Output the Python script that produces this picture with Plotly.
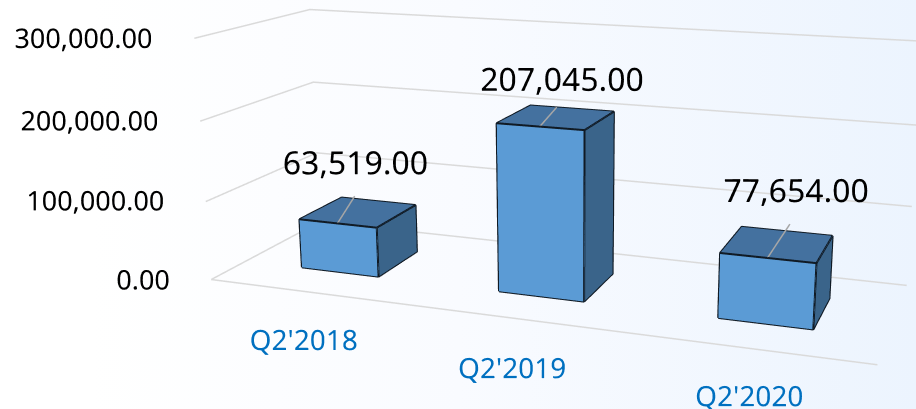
import base64
import plotly.graph_objects as go

categories = ["Q2'2018", "Q2'2019", "Q2'2020"]
values = [63519, 207045, 77654]
value_labels = ["63,519.00", "207,045.00", "77,654.00"]
y_ticks = [0, 100000, 200000, 300000]
y_tick_labels = ["0.00", "100,000.00", "200,000.00", "300,000.00"]

FACE = "#5b9bd5"; TOP = "#44719f"; SIDE = "#3a648a"; EDGE = "#101a24"; GRID = "#dadada"; LEADER = "#a6a6a6"
FONT = "Noto Sans"

# 3D scene frame
XR = [-1.0, 3.0]; YR = [-1.0, 1.5]; ZR = [-30000, 330000]
HALF_W, DEPTH0, DEPTH1 = 0.2007, 0.2977, 0.7043
LEADER_END = [(0.0, 0.470, 86728), (1.0, 0.506, 219099), (2.0, 0.776, 81086)]
LABEL_AT = [(0.0, 0.470, 68200), (1.023, 0.506, 195600), (2.03, 0.776, 64600)]
CAT_AT = [(0.285, -0.527), (1.187, -0.514), (2.1, -0.466)]

# Camera: long lens, obtained with a scene larger than the window, shifted to frame the chart
LW, LH, TOP_SHIFT = 1141, 1138, 391
WIN_W, WIN_H = 916, 409

fig = go.Figure()

def line3(xs, ys, zs, color, width):
    fig.add_trace(go.Scatter3d(x=xs, y=ys, z=zs, mode="lines", line=dict(color=color, width=width),
                               hoverinfo="skip", showlegend=False))

def text3(x, y, z, s, pos, size, color):
    fig.add_trace(go.Scatter3d(x=[x], y=[y], z=[z], mode="text", text=[s], textposition=pos,
                               textfont=dict(size=size, color=color, family=FONT), hoverinfo="skip", showlegend=False))

for t in y_ticks:
    line3([-.5, -.5, 2.5], [0, 1, 1], [t, t, t], GRID, 3)
line3([-.5, 2.5], [0, 0], [0, 0], GRID, 3)
for t, lab in zip(y_ticks, y_tick_labels):
    text3(-0.585, 0, t - 2800, lab, "middle left", 27, "black")

for i, v in enumerate(values):
    x0, x1, y0, y1 = i - HALF_W, i + HALF_W, DEPTH0, DEPTH1
    X = [x0, x1, x1, x0, x0, x1, x1, x0]
    Y = [y0, y0, y1, y1, y0, y0, y1, y1]
    Z = [0, 0, 0, 0, v, v, v, v]
    faces = [((0, 1, 5), FACE), ((0, 5, 4), FACE), ((1, 2, 6), SIDE), ((1, 6, 5), SIDE), ((4, 5, 6), TOP), ((4, 6, 7), TOP)]
    fig.add_trace(go.Mesh3d(x=X, y=Y, z=Z, i=[q[0][0] for q in faces], j=[q[0][1] for q in faces], k=[q[0][2] for q in faces],
                            facecolor=[q[1] for q in faces], flatshading=True, lighting=dict(ambient=1, diffuse=0, specular=0),
                            showscale=False, hoverinfo="skip"))
    for path in ([0, 1, 5, 4, 0], [1, 2, 6, 5], [4, 7, 6]):
        line3([X[q] for q in path], [Y[q] for q in path], [Z[q] for q in path], EDGE, 4)
    L = LEADER_END[i]
    line3([i, L[0]], [y0, L[1]], [v + 500, L[2]], LEADER, 3)
    A = LABEL_AT[i]
    text3(A[0], A[1], A[2], value_labels[i], "top center", 32, "black")
    text3(CAT_AT[i][0], CAT_AT[i][1], -2000, categories[i], "middle center", 28, "#0070c0")

svg = ('<svg xmlns="http://www.w3.org/2000/svg" width="916" height="409"><defs><linearGradient id="g" x1="0" x2="1" y1="0" y2="0">'
       '<stop offset="0.1" stop-color="#ffffff"/><stop offset="0.5" stop-color="#f9fbff"/><stop offset="1" stop-color="#ecf4fe"/>'
       '</linearGradient></defs><rect width="916" height="409" fill="url(#g)"/></svg>')
bg = "data:image/svg+xml;base64," + base64.b64encode(svg.encode()).decode()

hidden = dict(visible=False)
fig.update_layout(
    width=LW, height=LH, margin=dict(l=0, r=0, t=0, b=0), showlegend=False, paper_bgcolor="white",
    images=[dict(source=bg, xref="paper", yref="paper", x=0, y=1 - TOP_SHIFT / LH, sizex=WIN_W / LW, sizey=WIN_H / LH,
                 xanchor="left", yanchor="top", sizing="stretch", layer="below")],
    scene=dict(domain=dict(x=[0, 1], y=[0, 1]), bgcolor="rgba(0,0,0,0)",
               xaxis=dict(hidden, range=XR), yaxis=dict(hidden, range=YR), zaxis=dict(hidden, range=ZR),
               aspectmode="manual", aspectratio=dict(x=2.0, y=1.2347, z=0.6658),
               camera=dict(eye=dict(x=1.0258, y=-2.6488, z=0.7420), center=dict(x=0.0275, y=0.1391, z=-0.0338),
                           up=dict(x=0, y=0, z=1))),
)
fig.write_html("out.html", config=dict(displayModeBar=False),
               post_script="document.body.style.margin='0';document.body.style.marginTop='-%dpx';document.documentElement.style.overflow='hidden';" % TOP_SHIFT)
